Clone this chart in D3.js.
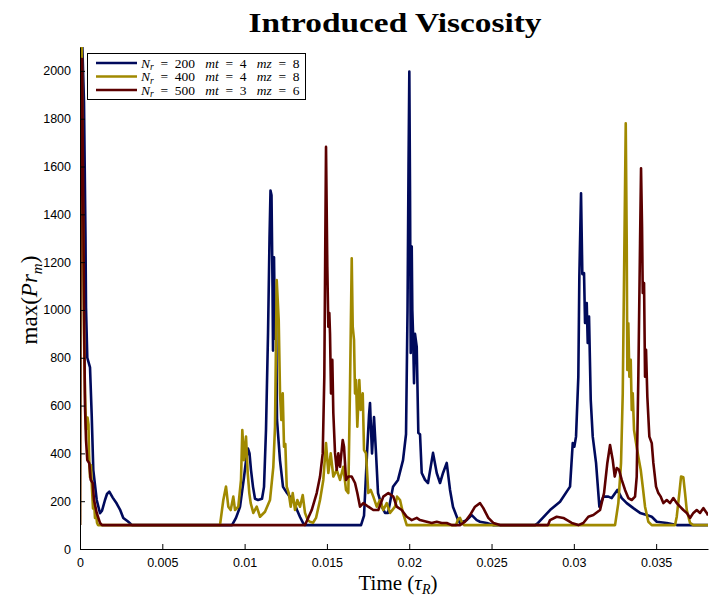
<!DOCTYPE html>
<html><head><meta charset="utf-8">
<script src="https://cdn.jsdelivr.net/npm/d3@7/dist/d3.min.js"></script>
<style>body{margin:0;background:#fff}</style>
</head><body>
<svg id="c" width="710" height="601"></svg>
<script>
const titleText = "Introduced Viscosity";
const xTickValues = [0, 0.005, 0.01, 0.015, 0.02, 0.025, 0.03, 0.035];
const xTickLabels = ["0", "0.005", "0.01", "0.015", "0.02", "0.025", "0.03", "0.035"];
const yTickValues = [0, 200, 400, 600, 800, 1000, 1200, 1400, 1600, 1800, 2000];
const legendNr = [200, 400, 500];
const legendMt = [4, 4, 3];
const legendMz = [8, 8, 6];
const seriesColors = ["#000a5c", "#a08900", "#5c0000"];

// Nr = 200
const timeA = [0,0.000122,0.000243,0.000334,0.000365,0.000443,0.000608,0.000711,0.000808,0.001015,0.001215,0.001337,0.001519,0.00164,0.00178,0.001987,0.00223,0.00243,0.002631,0.002916,0.003159,
0.009234,0.009477,0.00972,0.009963,0.010085,0.010207,0.010298,0.010389,0.01051,0.010632,0.010814,0.011057,0.011179,0.0113,0.011422,0.011513,0.011573,0.011634,0.011695,0.011725,0.011786,0.011847,0.011908,0.011968,0.012151,0.012333,0.012576,0.012758,0.01294,0.013183,0.013366,0.013548,0.013669,
0.017072,0.017254,0.017436,0.017558,0.017618,0.017679,0.01774,0.017861,0.017983,0.018104,0.018347,0.01853,0.018712,0.019016,0.019319,0.019623,0.019805,0.019897,0.019957,0.020006,0.020048,0.020091,0.020152,0.020188,0.020231,0.020292,0.020352,0.020456,0.020553,0.020656,0.020759,0.02096,0.021142,0.021446,0.021671,0.021871,0.022053,0.022278,0.022479,0.022661,0.022965,0.023086,0.023493,0.023797,0.0241,0.024301,0.024708,0.025091,
0.027643,0.027825,0.028554,0.029161,0.029769,0.029933,0.03003,0.030133,0.030273,0.030334,0.030437,0.030516,0.030619,0.03068,0.030783,0.030844,0.030923,0.031027,0.031148,0.031349,0.03155,0.031792,0.032096,0.032302,0.032643,0.032909,0.033213,0.033614,0.034022,0.034429,0.034733,0.035036,0.035644,0.036251,0.038153];
const valA = [2300,2150,1870,1300,1010,800,760,560,330,205,150,160,205,230,240,215,190,165,130,115,100,
100,130,176,300,370,420,400,330,260,210,205,210,260,500,900,1300,1500,1480,1100,830,1220,880,1000,540,370,260,234,218,205,163,134,109,100,
100,140,400,560,611,500,400,552,400,234,176,151,151,260,289,372,480,1000,1600,1997,1500,820,1265,1000,904,694,900,845,485,480,318,289,276,402,318,276,318,360,247,176,121,109,121,142,121,114,109,100,
100,109,163,198,261,443,428,470,721,1139,1488,1150,1154,946,1029,862,972,623,470,360,177,219,219,213,247,213,192,171,151,142,135,114,109,100,100];

// Nr = 400
const timeB = [0,0.000036,0.000091,0.000152,0.000243,0.000304,0.000365,0.000456,0.000516,0.000547,0.000608,0.000668,0.000729,0.00079,0.000851,0.000911,0.000972,0.001033,0.001094,
0.008505,0.008706,0.00887,0.00901,0.009155,0.009313,0.009417,0.009617,0.009781,0.00986,0.009963,0.010085,0.010188,0.010285,0.01037,0.010528,0.010735,0.010936,0.011239,0.011543,0.011744,0.011847,0.01195,0.012011,0.012072,0.012151,0.01223,0.012315,0.012394,0.012473,0.012558,0.012679,0.012801,0.012922,0.013062,0.013202,0.013366,0.01353,0.013669,0.013833,0.013973,0.014155,0.014338,
0.014581,0.014781,0.014945,0.015085,0.015231,0.015389,0.015595,0.015796,0.015996,0.01616,0.0163,0.016403,0.016507,0.016567,0.016646,0.016707,0.016768,0.016847,0.016968,0.017053,0.017175,0.017254,0.017375,0.017515,0.017661,0.017819,0.018025,0.018226,0.018426,0.018633,0.018833,0.019137,0.019259,0.019441,0.019623,0.019848,
0.022843,0.022965,0.023086,0.023208,0.023329,
0.032503,0.032703,0.032867,0.032971,0.03305,0.033153,0.033213,0.03325,0.033311,0.033372,0.033456,0.033517,0.033578,0.033657,0.033779,0.033918,0.034064,0.034186,0.034325,0.034526,0.034733,
0.036148,0.036251,0.036409,0.036513,0.036652,0.036756,0.036859,0.037059,0.037261,0.038153];
const valB = [100,2300,2300,1600,900,650,500,550,520,400,300,350,250,170,200,130,150,110,100,
100,205,261,177,163,219,163,177,289,498,372,470,318,234,192,151,177,135,156,205,344,512,1125,1042,958,651,540,651,428,440,261,234,177,234,163,205,177,226,151,121,114,110,130,
205,289,443,318,400,303,331,289,344,247,234,679,1216,930,875,651,707,512,707,582,651,414,400,234,247,219,177,205,163,192,151,177,219,205,150,100,
100,125,130,110,100,
100,192,360,651,1139,1781,1279,749,944,721,791,582,651,498,443,386,331,261,177,114,100,
100,135,234,303,300,234,163,109,100,100];

// Nr = 500
const timeC = [0,0.000049,0.000122,0.0002,0.000243,0.000304,0.000365,0.000443,0.000565,0.00065,0.000772,0.000851,0.001015,0.001215,0.001337,
0.013669,0.014077,0.01438,0.014581,0.014745,0.014842,0.014903,0.014945,0.015024,0.015085,0.015146,0.015188,0.015249,0.015328,0.015389,0.015492,0.015595,0.015693,0.015796,0.01596,0.016039,0.01616,0.0163,0.016507,0.016707,0.016847,0.017011,0.017211,0.017515,0.017819,0.018123,0.018426,0.01873,0.019034,0.01924,0.019544,0.019848,0.020152,0.020456,0.020656,0.021063,0.021367,0.021671,0.021974,0.022278,0.022582,
0.023086,0.02339,0.023694,0.023997,0.024301,0.024502,0.024806,0.025109,0.025516,
0.028432,0.028554,0.028961,0.029362,0.029872,0.030273,0.030577,0.030881,0.031185,0.031592,0.031835,0.032035,0.032199,0.032363,0.032485,0.032606,0.032746,0.032909,0.03311,0.033311,0.033517,0.033718,0.03382,0.033918,0.034022,0.034082,0.034143,0.034186,0.034265,0.034325,0.034386,0.034465,0.034587,0.034733,0.03483,0.034994,0.035133,0.035279,0.035438,0.035644,0.035844,0.036045,0.036251,0.036452,0.036652,0.036859,0.037059,0.037261,0.037466,0.037667,0.037867,0.038074,0.038153];
const valC = [100,2050,2050,1432,1014,595,456,372,358,289,276,205,151,109,100,
100,163,234,303,400,721,1300,1682,1181,930,987,900,651,791,569,402,331,400,344,456,428,289,303,303,276,234,177,192,177,163,163,219,234,219,177,163,135,121,130,121,114,109,114,109,109,100,
100,114,142,177,192,171,130,109,100,
100,121,135,130,109,100,109,135,142,163,234,360,435,372,303,339,331,289,247,213,205,219,303,721,1280,1593,1349,1071,1113,721,833,637,470,443,360,261,234,219,192,205,192,213,192,177,163,151,130,151,163,151,171,151,140];

const series = [
  {t: timeA, v: valA, color: seriesColors[0]},
  {t: timeB, v: valB, color: seriesColors[1]},
  {t: timeC, v: valC, color: seriesColors[2]}
];

const svg = d3.select("#c");
const L = 80, R = 708, T = 47, B = 549;
const x = d3.scaleLinear().domain([0, 0.03815]).range([L, R]);
const y = d3.scaleLinear().domain([0, 2100]).range([B, T]);

svg.append("defs").append("clipPath").attr("id", "clip")
  .append("rect").attr("x", L).attr("y", T).attr("width", R - L).attr("height", B - T);

const line = d3.line().x(d => x(d[0])).y(d => y(d[1]));
const g = svg.append("g").attr("clip-path", "url(#clip)");
series.forEach(s => {
  const pts = s.t.map((tt, i) => [tt, s.v[i]]);
  g.append("path").datum(pts).attr("d", line)
    .attr("fill", "none").attr("stroke", s.color).attr("stroke-width", 2.6)
    .attr("stroke-linejoin", "round");
});

// axes
const xAxis = d3.axisBottom(x).tickValues(xTickValues).tickFormat((d, i) => xTickLabels[i]).tickSizeInner(-5).tickSizeOuter(0).tickPadding(9);
const yAxis = d3.axisLeft(y).tickValues(yTickValues).tickFormat(d3.format("d")).tickSizeInner(-5).tickSizeOuter(0).tickPadding(9);
const gx = svg.append("g").attr("transform", `translate(0,${B})`).call(xAxis);
const gy = svg.append("g").attr("transform", `translate(${L},0)`).call(yAxis);
[gx, gy].forEach(a => {
  a.selectAll("text").attr("font-family", "Liberation Sans, Arial, sans-serif").attr("font-size", 12.5).attr("fill", "#000");
  a.selectAll("line").attr("stroke", "#000");
  a.select(".domain").attr("stroke", "#000");
});

// title
svg.append("text").attr("x", 395).attr("y", 32).attr("text-anchor", "middle")
  .attr("font-family", "Liberation Serif, serif").attr("font-weight", "bold").attr("font-size", 27)
  .attr("textLength", 293).attr("lengthAdjust", "spacingAndGlyphs").text(titleText);

// x label
const xl = svg.append("text").attr("x", 398).attr("y", 590).attr("text-anchor", "middle")
  .attr("font-family", "Liberation Serif, serif").attr("font-size", 21);
xl.append("tspan").text("Time (");
xl.append("tspan").attr("font-style", "italic").text("τ");
xl.append("tspan").attr("font-style", "italic").attr("font-size", 14).attr("dy", 4).text("R");
xl.append("tspan").attr("dy", -4).text(")");

// y label
const yl = svg.append("text").attr("transform", "translate(37,300) rotate(-90)").attr("text-anchor", "middle")
  .attr("font-family", "Liberation Serif, serif").attr("font-size", 23);
yl.append("tspan").text("max(");
yl.append("tspan").attr("font-style", "italic").text("Pr");
yl.append("tspan").attr("font-style", "italic").attr("font-size", 15).attr("dy", 5).text("m");
yl.append("tspan").attr("dy", -5).text(")");

// legend
const lg = svg.append("g");
lg.append("rect").attr("x", 87.5).attr("y", 53.5).attr("width", 218).attr("height", 46)
  .attr("fill", "#fff").attr("stroke", "#000").attr("stroke-width", 1);
const rowY = [63, 76.5, 90];
const sp = "\u2002";
const gap = "\u00A0\u00A0\u00A0";
legendNr.forEach((nr, i) => {
  lg.append("line").attr("x1", 96).attr("x2", 137).attr("y1", rowY[i]).attr("y2", rowY[i])
    .attr("stroke", seriesColors[i]).attr("stroke-width", 2.6);
  const t = lg.append("text").attr("x", 141).attr("y", rowY[i] + 4.5)
    .attr("font-family", "Liberation Serif, serif").attr("font-size", 13.5);
  t.append("tspan").attr("font-style", "italic").text("N");
  t.append("tspan").attr("font-style", "italic").attr("font-size", 9.5).attr("dy", 2.5).text("r");
  t.append("tspan").attr("dy", -2.5).text(`${sp}=${sp}${nr}${gap}`);
  t.append("tspan").attr("font-style", "italic").text("mt");
  t.append("tspan").text(`${sp}=${sp}${legendMt[i]}${gap}`);
  t.append("tspan").attr("font-style", "italic").text("mz");
  t.append("tspan").text(`${sp}=${sp}${legendMz[i]}`);
});
</script>
</body></html>
